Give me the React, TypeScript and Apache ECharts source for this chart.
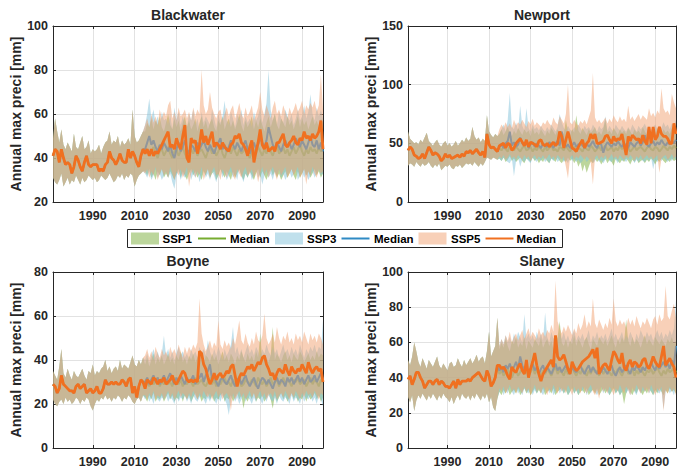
import React, { useEffect, useRef } from "react";
import * as echarts from "echarts";

// ---------- categories & tick labels ----------
const YEARS: string[] = Array.from({ length: 130 }, (_, i) => String(1971 + i));
const X_TICK_LABELS = ["1990", "2010", "2030", "2050", "2070", "2090"];

// ---------- Blackwater ----------
const bwHistMed = [41,44,43,38,44,40,37,38,37,33, 36,41,39,36,34,38,41,37,36,37, 37,37,34,35,34,37,38,43,40,39, 37,39,42,39,38,38,44,40,43,41, 38,36,41,44];
const bwHistLo = [31,29,28,30,33,27,29,31,28,30, 29,32,30,28,31,29,30,32,31,30, 31,29,30,32,31,30,31,33,31,29, 30,32,31,33,30,32,31,33,32,27, 30,32,33,34];
const bwHistHi = [49,58,52,47,53,46,44,47,45,43, 51,45,44,47,50,44,45,48,42,44, 43,44,46,42,45,47,48,52,46,48, 47,50,45,48,46,47,49,46,62,50, 47,48,50,52];
const bwSsp1Med = [42,44,41,43,45,42,40,43,44,41, 43,45,42,40,43,44,41,43,45,42, 40,43,44,42,45,41,43,44,42,40, 43,45,42,44,41,43,46,42,40,43, 44,42,45,43,41,44,42,43,45,42, 40,43,44,42,45,43,41,44,42,45, 43,41,44,46,42,43,45,42,44,41, 43,45,42,44,46,43,41,44,42,45, 43,44,42,45,43,44];
const bwSsp1Lo = [34,32,35,31,33,30,34,32,35,31, 33,31,34,32,30,33,35,31,34,32, 30,33,35,32,34,31,33,30,34,32, 35,31,33,34,30,32,35,33,31,34, 32,30,34,31,33,35,32,30,33,31, 34,32,30,33,35,31,34,32,30,33, 35,32,34,31,33,30,32,34,31,33, 35,32,30,34,31,33,35,32,34,31, 33,35,32,34,31,33];
const bwSsp1Hi = [52,56,54,58,53,57,55,59,54,52, 56,60,55,53,58,54,57,52,56,59, 54,57,53,55,58,52,56,59,54,57, 53,56,58,54,52,57,55,59,53,56, 58,54,57,53,56,60,55,52,57,54, 56,59,53,57,54,58,55,52,56,59, 54,57,60,55,53,58,56,54,59,55, 57,53,56,59,54,58,55,57,53,56, 59,55,57,54,58,56];
const bwSsp3Med = [44,47,50,46,48,45,43,46,44,47, 45,43,46,42,40,44,47,43,45,48, 44,42,46,45,43,47,44,46,48,45, 43,46,44,42,45,47,49,44,46,43, 45,48,46,44,47,45,43,46,48,44, 42,45,47,44,46,49,47,45,48,54, 50,46,44,47,45,43,46,48,45,47, 44,46,49,47,45,48,46,44,47,50, 46,45,48,44,47,43];
const bwSsp3Lo = [33,31,34,30,32,35,31,33,30,32, 34,31,33,29,26,32,34,30,33,31, 32,35,30,33,31,34,29,32,35,31, 33,30,34,32,29,33,35,31,34,30, 32,34,31,33,30,35,32,29,33,31, 34,30,32,35,31,33,28,32,34,31, 33,30,34,32,35,31,33,30,32,34, 31,33,35,30,32,34,31,33,30,32, 34,31,33,35,32,33];
const bwSsp3Hi = [55,60,67,58,62,56,59,54,61,57, 58,55,60,53,63,57,61,55,59,56, 54,60,57,62,55,58,53,61,56,59, 57,55,62,58,54,60,56,59,66,57, 55,61,58,54,60,57,62,55,59,56, 58,54,61,57,59,63,56,60,65,80, 62,57,60,55,61,58,56,62,59,57, 60,55,58,62,57,59,64,58,61,69, 60,57,63,59,62,58];
const bwSsp5Med = [42,44,41,44,41,43,42,44,46,48, 50,52,45,46,44,49,46,44,50,55, 40,38,49,47,48,42,46,53,47,50, 46,49,52,45,47,46,44,47,45,44, 43,46,47,50,49,51,47,46,44,41, 45,48,38,43,47,53,46,44,47,43, 44,45,43,47,47,49,51,46,45,47, 48,50,47,46,49,48,52,49,50,48, 51,49,50,52,57,44];
const bwSsp5Lo = [33,35,31,34,32,36,30,33,35,32, 34,31,36,33,30,34,32,35,31,33, 36,27,33,35,31,34,32,36,30,33, 35,31,34,36,32,33,30,35,33,31, 34,36,32,30,35,33,31,34,36,32, 33,35,31,34,29,33,36,32,35,31, 34,36,33,30,35,32,34,36,31,33, 35,32,34,36,31,33,35,28,34,32, 36,33,31,35,33,34];
const bwSsp5Hi = [55,58,54,60,56,59,55,62,58,61, 59,64,66,58,61,57,63,59,60,62, 58,61,57,63,59,62,60,80,64,60, 62,70,63,60,58,61,62,57,60,63, 59,62,64,58,61,65,60,58,63,59, 61,64,57,60,63,70,62,59,64,61, 58,63,66,60,62,59,64,61,58,63, 60,62,65,61,63,66,60,64,62,65, 63,66,61,64,78,62];

// ---------- Newport ----------
const npHistMed = [44,47,45,40,39,37,38,41,37,42, 47,44,40,42,41,39,35,37,41,38, 40,37,38,39,40,38,41,39,43,42, 44,41,43,45,42,40,43,38,58,49, 46,47,45,43];
const npHistLo = [31,33,32,30,34,32,30,33,31,32, 34,31,29,32,30,33,27,29,31,30, 32,29,28,31,30,32,29,31,33,32, 33,31,34,32,30,33,31,34,38,37, 36,38,37,36];
const npHistHi = [60,54,52,50,51,49,53,51,55,59, 52,50,48,51,53,49,47,50,52,48, 50,47,49,52,48,50,53,51,55,52, 54,64,56,53,55,51,54,52,74,60, 57,55,58,56];
const npSsp1Med = [46,44,47,45,43,48,46,44,47,45, 43,46,48,44,45,47,43,46,44,48, 45,43,47,44,46,48,44,45,43,47, 46,44,48,45,43,46,47,44,46,45, 43,47,45,44,48,46,43,45,47,44, 46,48,44,45,47,43,46,44,48,45, 47,44,46,43,45,48,44,46,47,45, 43,46,48,45,44,47,46,43,45,48, 46,44,47,45,48,46];
const npSsp1Lo = [37,35,38,34,36,39,35,37,34,36, 38,35,33,37,36,34,38,35,37,33, 36,34,38,35,33,37,36,34,38,35, 33,36,34,38,35,37,33,36,30,34, 26,32,25,30,35,33,37,34,36,32, 35,37,33,36,34,31,37,35,33,36, 34,37,35,32,36,34,37,33,35,36, 33,36,34,37,35,32,36,34,37,35, 33,36,34,37,35,36];
const npSsp1Hi = [58,62,57,60,64,59,56,61,58,63, 60,57,62,59,61,56,63,58,60,57, 62,59,56,61,58,63,60,57,62,59, 61,58,70,60,57,62,59,74,61,58, 63,60,57,62,59,61,64,58,60,57, 62,70,59,61,58,63,60,57,62,59, 61,58,63,60,57,62,59,61,58,64, 60,57,62,59,61,58,63,60,57,62, 59,61,58,63,60,62];
const npSsp3Med = [47,49,46,50,52,60,48,51,47,49, 55,50,48,52,46,49,51,47,50,48, 46,50,48,47,51,49,46,50,52,48, 60,50,47,49,46,48,51,47,49,50, 48,46,50,47,49,52,48,46,50,49, 42,48,51,49,47,50,48,52,49,47, 50,48,46,51,49,47,50,52,48,51, 57,49,47,50,52,48,51,49,53,50, 48,51,49,52,50,53];
const npSsp3Lo = [37,35,38,36,34,33,37,22,35,38, 30,36,34,37,35,33,38,36,34,37, 35,38,34,36,33,37,35,38,34,36, 37,34,36,33,38,35,37,34,36,33, 35,38,34,36,37,33,35,38,34,36, 33,36,38,35,34,37,36,33,38,35, 36,34,37,35,38,33,36,34,37,35, 34,37,35,38,28,36,34,37,35,38, 36,34,37,35,38,36];
const npSsp3Hi = [58,62,66,60,70,93,64,62,68,61, 82,65,61,80,63,60,66,62,64,61, 65,62,60,64,61,66,63,60,64,75, 68,63,61,65,62,60,64,61,66,63, 60,65,62,64,61,66,63,60,65,62, 64,73,61,65,62,60,66,63,61,65, 62,60,64,61,66,63,60,65,62,64, 67,62,65,61,64,66,62,65,63,68, 64,66,62,67,65,70];
const npSsp5Med = [48,49,50,46,50,49,44,46,50,52, 54,51,48,53,47,51,50,49,47,52, 53,49,48,50,47,49,51,48,50,60, 56,46,53,60,53,46,45,43,47,50, 53,46,50,52,58,54,58,50,50,51, 52,56,57,53,50,56,52,54,53,58, 49,40,56,52,57,55,53,54,50,57, 52,49,64,50,64,53,56,64,58,56, 56,54,50,50,67,58];
const npSsp5Lo = [39,37,40,36,38,41,37,39,36,40, 38,36,40,37,39,35,38,40,36,39, 37,40,36,38,41,37,39,36,40,38, 36,39,30,20,38,40,36,39,37,40, 38,36,39,37,33,15,38,40,36,39, 37,40,36,38,41,37,39,36,40,38, 36,39,37,40,38,35,39,37,40,36, 38,40,37,39,36,38,40,25,37,39, 40,36,38,41,37,39];
const npSsp5Hi = [62,66,63,68,64,67,63,70,65,68, 66,70,67,64,69,66,71,65,68,66, 64,68,66,70,67,65,72,68,66,73, 70,67,75,100,68,66,70,67,65,69, 67,70,66,72,78,110,72,68,70,67, 69,72,67,71,68,74,70,68,73,69, 71,68,82,70,73,69,72,75,70,74, 72,70,80,73,76,72,78,75,97,80, 76,78,74,92,85,80];

// ---------- Boyne ----------
const byHistMed = [29,28,25,27,33,29,28,27,26,26, 25,28,29,27,28,29,25,26,27,25, 26,28,25,25,27,31,29,29,30,29, 30,29,29,31,30,28,31,32,25,28, 23,28,31,30];
const byHistLo = [22,20,19,21,22,20,23,21,22,20, 21,23,22,20,22,21,23,22,19,17, 20,22,21,23,22,24,22,23,21,23, 22,24,23,21,23,22,24,23,21,20, 22,23,21,24];
const byHistHi = [35,33,31,37,45,34,32,36,33,31, 35,33,32,34,36,33,31,35,34,38, 33,35,34,36,37,40,35,37,34,36, 37,35,40,36,38,37,36,39,42,38, 37,40,38,41];
const bySsp1Med = [29,30,28,31,29,30,32,28,30,29, 31,29,30,28,32,30,29,31,28,30, 29,31,30,28,32,29,30,31,29,28, 30,32,29,31,28,30,29,31,32,29, 30,28,31,29,30,32,28,29,31,30, 29,31,30,28,32,30,29,31,28,30, 32,29,30,31,28,30,32,29,31,30, 28,31,30,32,29,30,31,28,30,32, 29,31,30,28,31,30];
const bySsp1Lo = [23,21,24,22,25,21,23,22,24,21, 23,25,22,24,21,23,22,25,21,24, 22,24,21,23,25,22,24,21,23,22, 25,22,24,21,23,22,24,25,21,23, 22,24,21,23,25,22,24,18,23,21, 24,22,25,21,23,22,24,21,23,25, 22,18,24,21,23,25,22,24,21,23, 25,22,24,21,23,22,25,21,24,22, 23,25,22,24,21,23];
const bySsp1Hi = [38,41,37,40,43,38,41,39,42,38, 40,43,39,41,38,42,40,44,39,41, 38,42,40,43,39,41,44,40,38,42, 41,39,43,40,42,38,41,44,40,42, 39,43,41,38,42,40,44,41,39,43, 40,42,39,44,41,52,40,43,41,39, 42,55,40,43,41,39,42,44,40,42, 39,43,41,40,44,42,39,41,43,40, 42,40,44,41,43,42];
const bySsp3Med = [30,32,29,31,33,30,32,29,31,33, 30,32,34,31,29,32,30,33,31,29, 32,30,31,33,29,31,32,34,30,33, 35,38,31,33,30,28,31,32,30,29, 31,33,30,28,31,32,29,31,33,30, 28,30,32,29,27,30,32,31,29,31, 29,27,30,32,29,31,30,28,32,30, 32,29,31,33,30,32,29,31,33,30, 31,33,30,32,34,31];
const bySsp3Lo = [22,24,21,23,20,24,22,21,23,22, 24,21,23,22,20,24,21,23,22,24, 21,23,20,24,22,21,23,24,22,20, 23,21,24,22,20,23,21,24,22,20, 15,22,24,21,23,20,22,24,21,23, 22,20,23,21,24,22,20,23,21,24, 22,21,23,20,24,22,21,23,22,20, 24,21,23,22,20,24,21,23,22,24, 21,23,20,24,22,19];
const bySsp3Hi = [40,43,39,42,45,41,44,40,43,51, 42,45,41,44,40,43,46,42,44,41, 43,40,45,42,44,41,46,43,45,42, 49,44,41,45,42,46,43,40,45,42, 44,47,55,43,46,42,45,41,44,47, 43,45,42,46,44,41,45,43,47,44, 42,46,43,45,41,44,47,43,45,42, 46,43,45,42,47,44,41,45,43,46, 44,47,43,46,45,58];
const bySsp5Med = [27,31,30,29,32,31,29,31,30,32, 29,30,31,33,30,29,31,33,35,34, 31,30,31,30,31,30,44,43,38,36, 32,29,31,34,31,33,34,32,33,35, 34,37,38,33,28,32,34,33,35,37, 36,38,35,37,39,38,41,42,38,36, 33,34,31,34,36,35,34,38,35,33, 37,35,34,36,35,38,36,34,39,36, 34,36,37,35,36,30];
const bySsp5Lo = [24,22,25,23,26,22,24,23,25,22, 24,26,23,25,22,24,26,23,25,24, 22,25,23,26,24,22,25,23,26,24, 23,25,22,24,26,23,25,22,24,25, 23,17,25,22,24,26,23,25,22,24, 26,23,25,22,24,26,23,25,22,24, 25,23,26,22,24,25,23,26,24,22, 25,23,26,24,22,25,23,26,24,25, 23,26,24,22,25,24];
const bySsp5Hi = [42,45,41,44,40,46,43,41,45,42, 44,41,46,43,45,42,47,44,41,46, 43,46,44,47,45,48,68,52,47,44, 46,49,45,48,46,58,47,45,49,46, 48,45,50,47,52,58,49,47,52,48, 46,50,47,53,49,48,51,61,50,47, 49,52,48,55,50,47,51,49,53,48, 50,47,52,49,51,48,53,50,47,52, 49,51,48,52,50,47];

// ---------- Slaney ----------
const slHistMed = [39,41,36,39,43,43,40,38,34,36, 38,38,36,38,39,36,38,37,35,35, 34,36,38,34,39,36,38,38,38,39, 38,40,41,42,43,41,39,38,44,41, 35,37,40,47];
const slHistLo = [29,26,30,21,27,30,28,31,29,27, 30,28,31,29,27,30,28,31,29,28, 26,29,25,28,30,27,31,29,28,30, 27,30,28,31,29,27,30,28,31,26, 29,23,21,28];
const slHistHi = [50,47,52,60,55,49,46,51,48,45, 50,48,46,49,52,47,45,48,46,44, 48,49,46,47,51,48,46,50,47,49, 51,48,50,53,49,51,52,48,55,66, 52,55,58,74];
const slSsp1Med = [42,44,41,43,45,42,40,43,44,41, 43,45,42,44,41,43,46,42,44,43, 41,44,42,45,43,41,44,46,42,44, 43,41,45,42,44,46,43,41,44,42, 45,43,41,44,42,46,43,44,41,45, 42,44,46,43,41,44,42,45,43,41, 44,46,42,43,45,41,44,42,46,43, 41,44,43,45,42,44,46,43,41,44, 42,45,43,44,46,43];
const slSsp1Lo = [32,30,33,31,34,30,32,33,31,34, 30,32,34,31,33,30,32,34,31,33, 31,34,30,32,33,31,34,30,32,33, 34,31,33,30,32,34,31,33,30,32, 33,31,34,30,32,33,31,34,30,32, 34,31,33,30,32,34,31,33,30,32, 25,31,34,32,30,33,31,34,32,30, 33,31,34,32,30,33,31,34,32,30, 33,31,34,32,33,31];
const slSsp1Hi = [56,60,57,62,58,55,61,59,63,57, 60,58,63,56,61,59,57,62,60,58, 63,57,60,62,58,61,56,60,63,72, 60,58,62,57,61,59,64,58,62,60, 57,61,63,59,56,62,60,58,63,61, 59,62,58,61,64,60,57,62,59,63, 60,73,61,58,63,59,62,60,57,61, 64,59,62,60,58,63,61,59,62,60, 58,62,60,63,59,61];
const slSsp3Med = [44,46,43,47,45,48,44,46,49,45, 52,47,44,46,43,45,48,44,46,42, 45,47,43,46,44,42,45,48,44,46, 43,45,47,44,42,46,44,43,45,47, 44,42,45,47,43,46,44,42,45,43, 46,44,42,45,47,43,41,44,46,43, 45,47,44,42,46,44,47,45,43,46, 44,47,45,49,46,44,48,45,47,49, 46,48,45,50,47,58];
const slSsp3Lo = [32,34,30,33,31,35,32,30,34,31, 33,30,34,32,31,35,30,33,31,34, 32,30,33,35,31,34,30,32,35,31, 33,31,34,30,32,35,31,33,30,34, 32,35,30,33,31,34,32,30,33,35, 31,34,32,30,33,35,31,33,30,32, 34,31,33,30,35,32,30,34,31,33, 32,35,31,33,30,34,32,31,33,22, 32,34,31,33,30,35];
const slSsp3Hi = [58,62,59,64,60,63,59,65,61,66, 63,60,76,62,65,61,64,60,66,62, 65,61,77,63,60,66,62,64,61,65, 62,66,61,64,60,63,67,61,64,62, 65,61,63,67,60,64,62,66,61,64, 62,65,61,64,68,62,65,61,63,66, 61,64,62,66,63,60,65,62,67,64, 62,66,63,65,61,64,67,63,66,62, 65,63,67,64,68,84];
const slSsp5Med = [47,45,46,44,41,39,46,44,43,46, 48,44,42,50,40,45,49,54,47,42, 38,42,44,46,48,50,46,64,52,50, 51,53,49,45,42,49,46,44,45,47, 49,50,51,52,54,56,51,57,42,45, 47,48,46,44,50,55,53,50,48,54, 46,44,48,50,46,49,48,46,47,50, 51,47,45,48,52,49,47,46,52,58, 47,49,51,48,46,40];
const slSsp5Lo = [34,32,35,31,33,36,32,34,31,35, 33,31,35,32,34,30,33,36,32,34, 31,35,33,30,34,32,36,33,31,35, 32,34,31,36,33,30,35,32,34,31, 35,33,31,34,36,32,30,33,28,35, 32,34,31,35,33,30,34,32,36,33, 31,35,33,30,34,32,36,33,31,35, 32,34,31,36,33,30,34,32,35,21, 33,31,35,32,34,30];
const slSsp5Hi = [58,62,59,64,61,66,60,63,65,61, 64,67,62,65,68,63,66,64,62,68, 64,66,63,67,65,70,66,95,72,68, 65,69,66,70,67,64,68,65,71,67, 70,76,68,72,69,85,71,68,73,70, 67,71,68,74,70,85,72,69,73,70, 72,68,74,70,73,69,75,71,68,72, 70,74,71,68,73,75,70,76,72,74, 92,75,73,78,82,74];

// ---------- assembly ----------
type Triple = { lo: number[]; med: number[]; hi: number[] };
type Basin = { title: string; yMin: number; yMax: number; yStep: number; hist: Triple; ssp: Triple[] };

const BASINS: Basin[] = [
  {
    title: "Blackwater", yMin: 20, yMax: 100, yStep: 20,
    hist: { lo: bwHistLo, med: bwHistMed, hi: bwHistHi },
    ssp: [
      { lo: bwSsp1Lo, med: bwSsp1Med, hi: bwSsp1Hi },
      { lo: bwSsp3Lo, med: bwSsp3Med, hi: bwSsp3Hi },
      { lo: bwSsp5Lo, med: bwSsp5Med, hi: bwSsp5Hi },
    ],
  },
  {
    title: "Newport", yMin: 0, yMax: 150, yStep: 50,
    hist: { lo: npHistLo, med: npHistMed, hi: npHistHi },
    ssp: [
      { lo: npSsp1Lo, med: npSsp1Med, hi: npSsp1Hi },
      { lo: npSsp3Lo, med: npSsp3Med, hi: npSsp3Hi },
      { lo: npSsp5Lo, med: npSsp5Med, hi: npSsp5Hi },
    ],
  },
  {
    title: "Boyne", yMin: 0, yMax: 80, yStep: 20,
    hist: { lo: byHistLo, med: byHistMed, hi: byHistHi },
    ssp: [
      { lo: bySsp1Lo, med: bySsp1Med, hi: bySsp1Hi },
      { lo: bySsp3Lo, med: bySsp3Med, hi: bySsp3Hi },
      { lo: bySsp5Lo, med: bySsp5Med, hi: bySsp5Hi },
    ],
  },
  {
    title: "Slaney", yMin: 0, yMax: 100, yStep: 20,
    hist: { lo: slHistLo, med: slHistMed, hi: slHistHi },
    ssp: [
      { lo: slSsp1Lo, med: slSsp1Med, hi: slSsp1Hi },
      { lo: slSsp3Lo, med: slSsp3Med, hi: slSsp3Hi },
      { lo: slSsp5Lo, med: slSsp5Med, hi: slSsp5Hi },
    ],
  },
];

const SCENARIOS = [
  { name: "SSP1", band: "#79AD39", bandOpacity: 0.5, line: "#77AC30", width: 2 },
  { name: "SSP3", band: "#82C2DA", bandOpacity: 0.5, line: "#2F8AC4", width: 2 },
  { name: "SSP5", band: "#F2A272", bandOpacity: 0.5, line: "#F07020", width: 2.8 },
];

const GRIDS = [
  { left: 53, top: 26, width: 270, height: 176 },
  { left: 408, top: 26, width: 268, height: 176 },
  { left: 53, top: 272, width: 270, height: 176 },
  { left: 408, top: 272, width: 268, height: 176 },
];

const FONT = '"Liberation Sans", Arial, Helvetica, sans-serif';
const INK = "#262626";
const GRIDLINE = "#e2e2e2";
const isTick = (_i: number, v: string) => X_TICK_LABELS.includes(String(v));

function buildOption() {
  const grid: any[] = [];
  const xAxis: any[] = [];
  const yAxis: any[] = [];
  const series: any[] = [];
  const graphic: any[] = [];

  BASINS.forEach((b, g) => {
    const G = GRIDS[g];
    grid.push({ ...G, containLabel: false, outerBoundsMode: "none" });
    xAxis.push({
      type: "category", gridIndex: g, data: YEARS, boundaryGap: false, position: "bottom",
      axisLine: { show: true, onZero: false, lineStyle: { color: INK, width: 1 } },
      axisTick: { show: true, inside: true, length: 3, interval: isTick, lineStyle: { color: INK } },
      axisLabel: { show: true, interval: isTick, margin: 7, color: INK, fontFamily: FONT, fontWeight: "bold", fontSize: 12.5 },
      splitLine: { show: true, interval: isTick, lineStyle: { color: GRIDLINE, width: 1 } },
    });
    xAxis.push({
      type: "category", gridIndex: g, data: YEARS, boundaryGap: false, position: "top",
      axisLine: { show: true, onZero: false, lineStyle: { color: INK, width: 1 } },
      axisTick: { show: true, inside: true, length: 3, interval: isTick, lineStyle: { color: INK } },
      axisLabel: { show: false }, splitLine: { show: false },
    });
    yAxis.push({
      type: "value", gridIndex: g, min: b.yMin, max: b.yMax, interval: b.yStep, position: "left",
      name: "Annual max preci [mm]", nameLocation: "middle", nameGap: 30,
      nameTextStyle: { color: INK, fontFamily: FONT, fontWeight: "bold", fontSize: 14 },
      axisLine: { show: true, lineStyle: { color: INK, width: 1 } },
      axisTick: { show: true, inside: true, length: 3, lineStyle: { color: INK } },
      axisLabel: { show: true, margin: 5, color: INK, fontFamily: FONT, fontWeight: "bold", fontSize: 12.5 },
      splitLine: { show: true, lineStyle: { color: GRIDLINE, width: 1 } },
    });
    yAxis.push({
      type: "value", gridIndex: g, min: b.yMin, max: b.yMax, interval: b.yStep, position: "right",
      axisLine: { show: true, lineStyle: { color: INK, width: 1 } },
      axisTick: { show: true, inside: true, length: 3, lineStyle: { color: INK } },
      axisLabel: { show: false }, splitLine: { show: false },
    });

    SCENARIOS.forEach((s, k) => {
      const lo = [...b.hist.lo, ...b.ssp[k].lo];
      const hi = [...b.hist.hi, ...b.ssp[k].hi];
      const med = [...b.hist.med, ...b.ssp[k].med];
      const stack = `g${g}s${k}`;
      // later scenarios are drawn above earlier ones (band covers previous medians)
      const common = { type: "line", xAxisIndex: 2 * g, yAxisIndex: 2 * g, symbol: "none", silent: true, animation: false, z: 2 + k };
      series.push({ ...common, name: `${s.name} low`, data: lo, stack, lineStyle: { opacity: 0 } });
      series.push({
        ...common, name: s.name, data: hi.map((v, i) => v - lo[i]), stack,
        lineStyle: { opacity: 0 }, areaStyle: { color: s.band, opacity: s.bandOpacity },
      });
      series.push({ ...common, name: `${s.name} Median`, data: med, lineStyle: { color: s.line, width: s.width } });
    });

    graphic.push({
      type: "text", x: G.left + G.width / 2, y: G.top - 11,
      style: { text: b.title, align: "center", verticalAlign: "middle", textAlign: "center", textVerticalAlign: "middle", font: `bold 14px ${FONT}`, fill: INK },
    });
  });

  // legend box
  graphic.push({ type: "rect", shape: { x: 127.5, y: 229.5, width: 435, height: 18 }, style: { fill: "#ffffff", stroke: INK, lineWidth: 1 } });
  const legendItems = [
    { swatch: 131, label: 162.5, line: 198, label2: 230 },
    { swatch: 275, label: 307, line: 341.5, label2: 374 },
    { swatch: 418.5, label: 451, line: 485.5, label2: 516.5 },
  ];
  SCENARIOS.forEach((s, k) => {
    const L = legendItems[k];
    graphic.push({ type: "rect", shape: { x: L.swatch, y: 232.5, width: 28, height: 12 }, style: { fill: s.band, opacity: s.bandOpacity } });
    graphic.push({ type: "text", x: L.label, y: 238.5, style: { text: s.name, align: "left", verticalAlign: "middle", textAlign: "left", textVerticalAlign: "middle", font: `bold 11.5px ${FONT}`, fill: "#000" } });
    graphic.push({ type: "line", shape: { x1: L.line, y1: 238.5, x2: L.line + 28, y2: 238.5 }, style: { stroke: s.line, lineWidth: 2 } });
    graphic.push({ type: "text", x: L.label2, y: 238.5, style: { text: "Median", align: "left", verticalAlign: "middle", textAlign: "left", textVerticalAlign: "middle", font: `bold 11.5px ${FONT}`, fill: "#000" } });
  });

  return { animation: false, backgroundColor: "#ffffff", grid, xAxis, yAxis, series, graphic };
}

export default function App() {
  const ref = useRef<HTMLDivElement>(null);
  useEffect(() => {
    if (!ref.current) return;
    const chart = echarts.init(ref.current, undefined, { renderer: "svg" });
    chart.setOption(buildOption() as any);
    return () => chart.dispose();
  }, []);
  return <div ref={ref} style={{ position: "absolute", left: 0, top: 0, width: 677, height: 473 }} />;
}
